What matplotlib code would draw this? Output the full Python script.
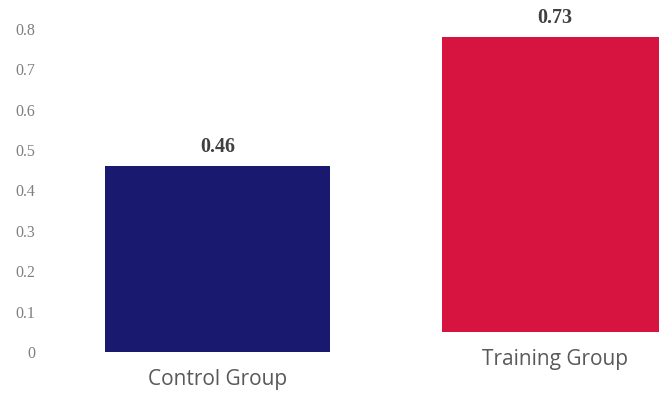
import matplotlib
matplotlib.use("Agg")
import matplotlib.pyplot as plt

categories = ["Control Group", "Training Group"]
values = [0.46, 0.73]
bar_bottoms = [0.0, 0.05]
colors = ["#191970", "#D71440"]
yticks = [0, 0.1, 0.2, 0.3, 0.4, 0.5, 0.6, 0.7, 0.8]
ytick_labels = ["0", "0.1", "0.2", "0.3", "0.4", "0.5", "0.6", "0.7", "0.8"]

W, H = 659, 394
fig = plt.figure(figsize=(W / 100, H / 100), dpi=100)
ax = fig.add_axes([45 / W, (H - 352) / H, (W - 45) / W, 352 / H])

x = list(range(len(categories)))
bars = ax.bar(x, values, bottom=bar_bottoms, width=0.667, color=colors)

ax.set_xlim(-0.511, 1.308)
ax.set_ylim(0, 0.871)
for s in ax.spines.values():
    s.set_visible(False)
ax.set_xticks([])
ax.set_yticks(yticks)
ax.set_yticklabels(ytick_labels, family="Liberation Serif", fontsize=11.5, color="#7f7f7f")
ax.tick_params(axis="y", length=0, pad=7)

for xi, v, b in zip(x, values, bar_bottoms):
    ax.annotate(f"{v:.2f}", (xi, b + v), xytext=(0, 13.5), textcoords="offset points",
                ha="center", va="center", family="Liberation Serif", fontweight="bold",
                fontsize=14.5, color="#404040")
    ax.annotate(categories[xi], (xi, b), xytext=(0, -20), textcoords="offset points",
                ha="center", va="center", family="Open Sans", fontsize=15,
                color="#595959", annotation_clip=False)

fig.savefig("out.png", dpi=100)
